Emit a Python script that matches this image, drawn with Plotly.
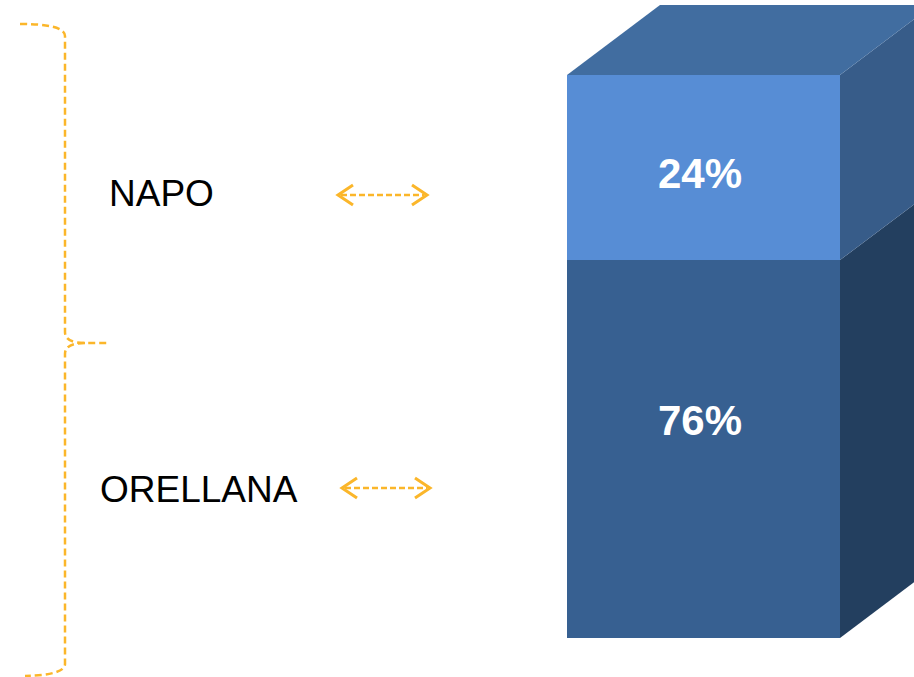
import plotly.graph_objects as go

# ---- data ----
categories = ["NAPO", "ORELLANA"]
values = [24, 76]          # percent
labels = ["24%", "76%"]
axis_floor = 27            # visible bottom of the value axis

# ---- layout constants (pixels) ----
W, H = 914, 677
front_left, front_right = 567, 840
top_px, bottom_px = 75, 638
depth_dx, depth_dy = 93, 70

total = sum(values)
ppu = (bottom_px - top_px) / (total - axis_floor)   # pixels per value unit
y_max = total + top_px / ppu
y_min = axis_floor - (H - bottom_px) / ppu
D = depth_dy / ppu

front_cols = {"NAPO": "#578DD5", "ORELLANA": "#376091"}
side_cols = {"NAPO": "#375C89", "ORELLANA": "#233F5F"}
top_col = "#416DA0"
orange = "#FBB62A"

# stack order: ORELLANA bottom, NAPO top
stack = [("ORELLANA", values[1], labels[1]), ("NAPO", values[0], labels[0])]

fig = go.Figure()
cx = (front_left + front_right) / 2
bw = front_right - front_left
base = 0
segs = []
for name, v, lab in stack:
    lo, hi = base, base + v
    base = hi
    vis_lo = max(lo, axis_floor)
    segs.append((name, vis_lo, hi, lab))
    # front face
    fig.add_trace(go.Bar(x=[cx], y=[hi - vis_lo], base=[vis_lo], width=[bw],
                         marker=dict(color=front_cols[name], line=dict(width=0)),
                         hoverinfo="skip", showlegend=False))
    # side face
    xr = front_right + depth_dx
    fig.add_trace(go.Scatter(x=[front_right, xr, xr, front_right, front_right],
                             y=[hi, hi + D, vis_lo + D, vis_lo, hi],
                             fill="toself", fillcolor=side_cols[name],
                             line=dict(width=0), mode="lines",
                             hoverinfo="skip", showlegend=False))

# top face
fig.add_trace(go.Scatter(x=[front_left, front_left + depth_dx, front_right + depth_dx, front_right, front_left],
                         y=[total, total + D, total + D, total, total],
                         fill="toself", fillcolor=top_col, line=dict(width=0),
                         mode="lines", hoverinfo="skip", showlegend=False))

# value labels
shifts = {"NAPO": -6, "ORELLANA": 29}
for name, lo, hi, lab in segs:
    fig.add_annotation(x=cx - 4, y=(lo + hi) / 2, yshift=shifts[name], text=f"<b>{lab}</b>",
                       showarrow=False, font=dict(family="Liberation Sans", size=42, color="white"))

# category labels (pixel coords on y2)
cat_pos = {"NAPO": (161, 193), "ORELLANA": (199, 489)}
for name in categories:
    x, y = cat_pos[name]
    fig.add_annotation(x=x, y=y, yref="y2", text=name, showarrow=False,
                       font=dict(family="Liberation Sans", size=37, color="black"))

# brace
brace = ("M 20,24 Q 65,24 65,36 L 65,332 Q 65,343 85,343 L 110,343 "
         "M 85,343 Q 65,343 65,354 L 65,664 Q 65,675 25,676")
shapes = [dict(type="path", path=brace, xref="x", yref="y2",
               line=dict(color=orange, width=2.5, dash="7px,4px"))]

# double arrows
arrows = {"NAPO": (338, 427, 195), "ORELLANA": (342, 430, 488)}
for name in categories:
    x0, x1, y = arrows[name]
    shapes.append(dict(type="line", x0=x0 + 3, x1=x1 - 3, y0=y, y1=y, xref="x", yref="y2",
                       line=dict(color=orange, width=2.5, dash="6px,3px")))
    shapes.append(dict(type="path", xref="x", yref="y2",
                       path=f"M {x0+15},{y-10} L {x0},{y} L {x0+15},{y+10}",
                       line=dict(color=orange, width=3)))
    shapes.append(dict(type="path", xref="x", yref="y2",
                       path=f"M {x1-15},{y-10} L {x1},{y} L {x1-15},{y+10}",
                       line=dict(color=orange, width=3)))

fig.update_layout(
    width=W, height=H, margin=dict(l=0, r=0, t=0, b=0),
    paper_bgcolor="white", plot_bgcolor="white",
    xaxis=dict(range=[0, W], visible=False, fixedrange=True),
    yaxis=dict(range=[y_min, y_max], visible=False, fixedrange=True),
    yaxis2=dict(range=[H, 0], overlaying="y", visible=False, fixedrange=True),
    shapes=shapes, barmode="overlay", showlegend=False,
)
fig.write_html("out.html", config={"displayModeBar": False},
               post_script="document.body.style.margin='0';document.body.style.overflow='hidden';")
